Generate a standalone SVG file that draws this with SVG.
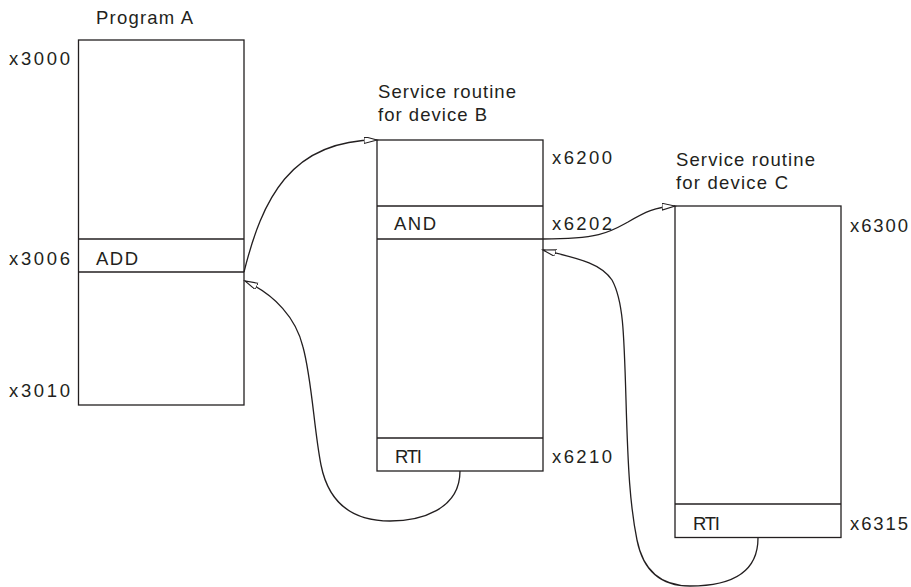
<svg xmlns="http://www.w3.org/2000/svg" width="911" height="587" viewBox="0 0 911 587">
<style>
  .box{fill:none;stroke:#231f20;stroke-width:1.3}
  .conn{fill:none;stroke:#231f20;stroke-width:1.3}
  text{font-family:"Liberation Sans","Open Sans",Arial,sans-serif;font-size:18.5px;fill:#231f20}
</style>
<defs>
  <marker id="ah" markerUnits="userSpaceOnUse" markerWidth="16" markerHeight="10" refX="13" refY="3.5" orient="auto">
    <path d="M0,0 L13,3.5 L0,7 Z" fill="#fff" stroke="#231f20" stroke-width="1.1"/>
  </marker>
</defs>
<rect width="911" height="587" fill="#fff"/>
<g id="programA">
  <text x="96" y="24" textLength="97" lengthAdjust="spacing">Program A</text>
  <rect class="box" x="78.5" y="40" width="165.5" height="365"/>
  <line class="box" x1="78.5" y1="239" x2="244" y2="239"/>
  <line class="box" x1="78.5" y1="272" x2="244" y2="272"/>
  <text x="96" y="265" textLength="42" lengthAdjust="spacing">ADD</text>
  <text x="9" y="65" textLength="61" lengthAdjust="spacing">x3000</text>
  <text x="9" y="265" textLength="61" lengthAdjust="spacing">x3006</text>
  <text x="9" y="397" textLength="61" lengthAdjust="spacing">x3010</text>
</g>
<g id="serviceB">
  <text x="378" y="98" textLength="138" lengthAdjust="spacing">Service routine</text>
  <text x="378" y="121" textLength="109" lengthAdjust="spacing">for device B</text>
  <rect class="box" x="377" y="140" width="166" height="331"/>
  <line class="box" x1="377" y1="206" x2="543" y2="206"/>
  <line class="box" x1="377" y1="239" x2="543" y2="239"/>
  <line class="box" x1="377" y1="438" x2="543" y2="438"/>
  <text x="394" y="230" textLength="42" lengthAdjust="spacing">AND</text>
  <text x="395" y="463" textLength="27" lengthAdjust="spacing">RTI</text>
  <text x="552" y="164" textLength="60" lengthAdjust="spacing">x6200</text>
  <text x="552" y="230" textLength="60" lengthAdjust="spacing">x6202</text>
  <text x="552" y="463" textLength="60" lengthAdjust="spacing">x6210</text>
</g>
<g id="serviceC">
  <text x="676" y="166" textLength="139" lengthAdjust="spacing">Service routine</text>
  <text x="676" y="189" textLength="112" lengthAdjust="spacing">for device C</text>
  <rect class="box" x="675" y="206" width="166" height="331.5"/>
  <line class="box" x1="675" y1="504" x2="841" y2="504"/>
  <text x="693" y="530" textLength="27" lengthAdjust="spacing">RTI</text>
  <text x="850" y="232" textLength="58" lengthAdjust="spacing">x6300</text>
  <text x="850" y="530" textLength="58" lengthAdjust="spacing">x6315</text>
</g>
<g id="connectors">
  <path class="conn" marker-end="url(#ah)" d="M244,272 C262,200 290,140 377,140"/>
  <path class="conn" marker-end="url(#ah)" d="M460,471 C460,510 420,521 390,521 C350,521 328,500 321,465 C314,430 312,380 303,347 C296,318 275,295 245,281"/>
  <path class="conn" marker-end="url(#ah)" d="M543,239 C600,239 610,232 628,222 C645,212 655,207 675,206"/>
  <path class="conn" marker-end="url(#ah)" d="M758,538 C758,570 735,586 690,586 C660,586 643,570 637,540 C630,505 628,470 626,400 C624,330 623,300 612,280 C600,262 575,258 543,250"/>
</g>
</svg>
